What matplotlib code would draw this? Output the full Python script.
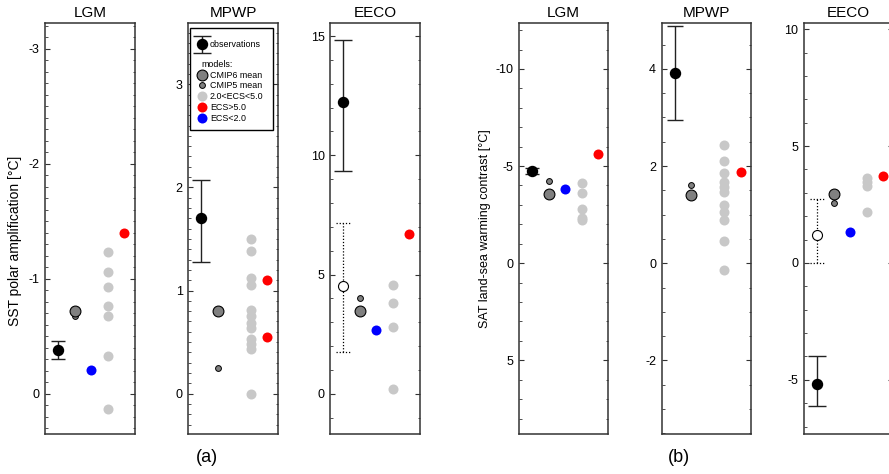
import matplotlib
matplotlib.use("Agg")
import matplotlib.pyplot as plt
from matplotlib.lines import Line2D
from matplotlib.container import ErrorbarContainer
from matplotlib.legend_handler import HandlerErrorbar
from matplotlib.ticker import MultipleLocator

plt.rcParams["font.family"] = ["Liberation Sans", "DejaVu Sans"]
plt.rcParams["axes.unicode_minus"] = False

periods = ["LGM", "MPWP", "EECO"]

# (a) SST polar amplification [°C]
sst_obs = [-0.38, 1.70, 12.25]
sst_obs_lo = [-0.30, 1.28, 9.34]
sst_obs_hi = [-0.46, 2.07, 14.83]
sst_cmip6 = [-0.72, 0.80, 3.45]
sst_cmip5 = [-0.675, 0.25, 4.00]
sst_low_ecs = [[-0.21], [], [2.66]]
sst_mid_ecs = [
    [-1.23, -1.06, -0.925, -0.765, -0.675, -0.33, 0.135],
    [1.50, 1.38, 1.12, 1.05, 0.81, 0.75, 0.69, 0.64, 0.53, 0.48, 0.43, 0.0],
    [4.54, 3.80, 2.82, 0.20],
]
sst_high_ecs = [[-1.40], [1.10, 0.55], [6.70]]
# alternative EECO reconstruction (open symbol, dotted range)
sst_alt = 4.53
sst_alt_lo = 1.76
sst_alt_hi = 7.14

# (b) SAT land-sea warming contrast [°C]
sat_obs = [-4.75, 3.91, -5.16]
sat_obs_lo = [-4.58, 2.94, -6.11]
sat_obs_hi = [-4.93, 4.88, -3.97]
sat_cmip6 = [-3.54, 1.41, 2.95]
sat_cmip5 = [-4.24, 1.62, 2.58]
sat_low_ecs = [[-3.83], [], [1.31]]
sat_mid_ecs = [
    [-4.13, -3.62, -2.78, -2.35, -2.21],
    [2.43, 2.10, 1.86, 1.67, 1.57, 1.47, 1.19, 1.06, 0.90, 0.46, -0.14],
    [3.62, 3.45, 3.28, 2.19],
]
sat_high_ecs = [[-5.61], [1.87], [3.72]]
sat_alt = 1.18
sat_alt_lo = 0.0
sat_alt_hi = 2.73

# axis ranges (bottom, top), major / minor tick steps
sst_ylims = [(0.353, -3.226), (-0.394, 3.597), (-1.70, 15.56)]
sst_steps = [(1, 0.1), (1, 0.1), (5, 1)]
sat_ylims = [(8.81, -12.38), (-3.52, 4.95), (-7.33, 10.28)]
sat_steps = [(5, 1), (2, 0.5), (5, 1)]

GREY = "#c8c8c8"
MEAN = "#808080"
FRAME = "#333333"

W, H = 889, 474
panel_left = [45.3, 188.3, 330.3, 519.0, 661.7, 804.0]
panel_w, panel_top, panel_bot = 89.3, 22.7, 434.3


def draw_panel(ax, i, obs, lo, hi, cmip6, cmip5, low, mid, high, ylim, steps, cap,
               alt=None, alt_lo=None, alt_hi=None):
    ax.plot([4] * len(mid), mid, "o", color=GREY, ms=7.2, mec="none", zorder=2)
    ax.plot([5] * len(high), high, "o", color="#ff0000", ms=7.2, mec="none", zorder=2)
    ax.plot([3] * len(low), low, "o", color="#0000ff", ms=7.2, mec="none", zorder=2)
    ax.plot([2], [cmip5[i]], "o", color=MEAN, ms=4.2, mec="black", mew=0.7, zorder=3)
    ax.plot([2], [cmip6[i]], "o", color=MEAN, ms=7.8, mec="black", mew=0.8, zorder=4)
    if alt is not None:
        ax.vlines(1, alt_lo, alt_hi, colors="black", linestyles=(0, (1, 1.5)), lw=0.9)
        ax.hlines([alt_lo, alt_hi], 0.55, 1.45, colors="black", linestyles=(0, (1, 1.5)), lw=0.9)
        ax.plot([1], [alt], "o", mfc="white", mec="black", ms=7.2, mew=0.8, zorder=5)
    err = [[abs(obs[i] - lo[i])], [abs(hi[i] - obs[i])]]
    eb = ax.errorbar([1], [obs[i]], yerr=err, fmt="o", color="black", ecolor="#222222",
                     ms=7.2, elinewidth=1.0, capsize=cap, capthick=1.0, zorder=5,
                     label="observations")
    ax.set_xlim(0.2, 5.62)
    ax.set_ylim(*ylim)
    ax.yaxis.set_major_locator(MultipleLocator(steps[0]))
    ax.yaxis.set_minor_locator(MultipleLocator(steps[1]))
    ax.tick_params(axis="y", which="both", direction="in", left=True, right=True,
                   labelsize=9, pad=4, color=FRAME)
    ax.tick_params(axis="y", which="major", length=3.5, width=0.8)
    ax.tick_params(axis="y", which="minor", length=1.8, width=0.6)
    ax.tick_params(axis="x", bottom=False, labelbottom=False)
    for s in ax.spines.values():
        s.set_color(FRAME)
        s.set_linewidth(1.1)
    ax.set_title(periods[i], fontsize=11, pad=4)
    return eb


fig = plt.figure(figsize=(W / 100, H / 100), dpi=100)
axes = []
for k, left in enumerate(panel_left):
    axes.append(fig.add_axes([left / W, 1 - panel_bot / H, panel_w / W,
                              (panel_bot - panel_top) / H]))

caps_a = [4.7, 6.4, 6.4]
caps_b = [4.7, 6.0, 6.4]
handles = []
for i in range(3):
    eb = draw_panel(axes[i], i, sst_obs, sst_obs_lo, sst_obs_hi, sst_cmip6, sst_cmip5,
                    sst_low_ecs[i], sst_mid_ecs[i], sst_high_ecs[i], sst_ylims[i],
                    sst_steps[i], caps_a[i],
                    *((sst_alt, sst_alt_lo, sst_alt_hi) if i == 2 else ()))
    handles.append(eb)
    draw_panel(axes[3 + i], i, sat_obs, sat_obs_lo, sat_obs_hi, sat_cmip6, sat_cmip5,
               sat_low_ecs[i], sat_mid_ecs[i], sat_high_ecs[i], sat_ylims[i],
               sat_steps[i], caps_b[i],
               *((sat_alt, sat_alt_lo, sat_alt_hi) if i == 2 else ()))

axes[0].set_ylabel("SST polar amplification [°C]", fontsize=10)
axes[0].yaxis.set_label_coords(-0.26, 0.47)
axes[3].set_ylabel("SAT land-sea warming contrast [°C]", fontsize=9)
axes[3].yaxis.set_label_coords(-0.31, 0.5)

legend_handles = [
    handles[1],
    Line2D([], [], ls="none"),
    Line2D([], [], ls="none", marker="o", color=MEAN, ms=7.8, mec="black", mew=0.8),
    Line2D([], [], ls="none", marker="o", color=MEAN, ms=4.2, mec="black", mew=0.7),
    Line2D([], [], ls="none", marker="o", color=GREY, ms=7.2, mec="none"),
    Line2D([], [], ls="none", marker="o", color="#ff0000", ms=7.2, mec="none"),
    Line2D([], [], ls="none", marker="o", color="#0000ff", ms=7.2, mec="none"),
]
legend_labels = ["\nobservations\n", "\nmodels:", "CMIP6 mean", "CMIP5 mean",
                 "2.0<ECS<5.0", "ECS>5.0", "ECS<2.0"]
box_x0 = (190 - 188.3) / panel_w
box_w = (273.3 - 190) / panel_w
leg = axes[1].legend(legend_handles, legend_labels, loc="upper left",
                     bbox_to_anchor=(box_x0, 0, box_w, (panel_bot - 28.3) / (panel_bot - panel_top)),
                     mode="expand", fontsize=6.4, frameon=True,
                     fancybox=False, edgecolor="black", framealpha=1,
                     borderpad=0.8, labelspacing=0.2, handlelength=1.0,
                     handletextpad=0.45, borderaxespad=0,
                     handler_map={ErrorbarContainer: HandlerErrorbar(yerr_size=0.95)})
leg.get_frame().set_linewidth(1.0)
leg.get_texts()[0].set_linespacing(0.3)
leg.get_texts()[1].set_linespacing(0.5)
leg.get_texts()[1].set_x(-9)

fig.text(207 / W, 1 - 458 / H, "(a)", ha="center", va="center", fontsize=13)
fig.text(679 / W, 1 - 458 / H, "(b)", ha="center", va="center", fontsize=13)

fig.savefig("out.png", dpi=100)
